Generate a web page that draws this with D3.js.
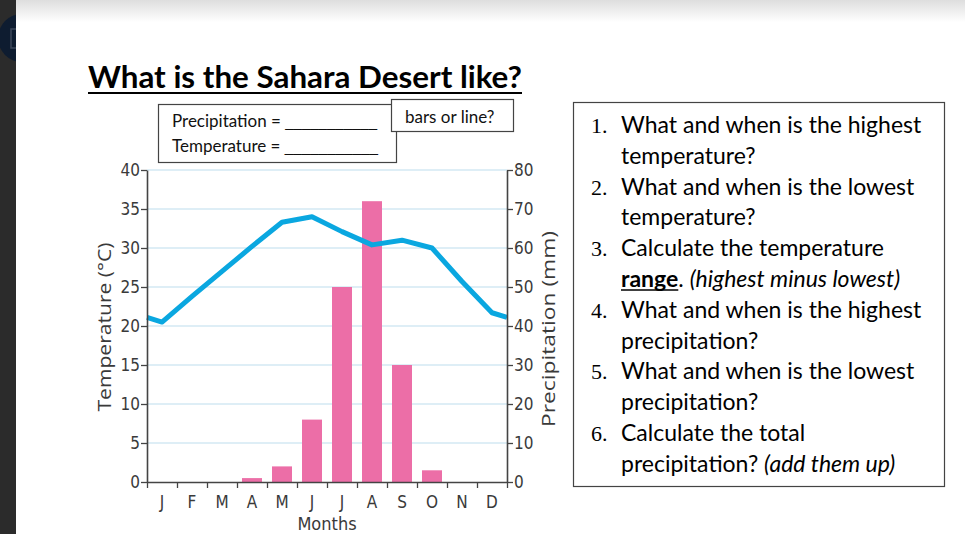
<!DOCTYPE html>
<html>
<head>
<meta charset="utf-8">
<script src="https://cdn.jsdelivr.net/npm/d3@7"></script>
<style>
body { margin: 0; background: #fff; overflow: hidden; }
svg { display: block; }
</style>
</head>
<body>
<svg id="page" width="965" height="534"></svg>
<script>
// values
const months = ["J", "F", "M", "A", "M", "J", "J", "A", "S", "O", "N", "D"];
const temperature = [20.5, 23.8, 27.0, 30.2, 33.3, 34.0, 32.1, 30.4, 31.0, 30.0, 25.7, 21.7];
const precipitation = [0, 0, 0, 1, 4, 16, 50, 72, 30, 3, 0, 0];
const tempTicks = [0, 5, 10, 15, 20, 25, 30, 35, 40];
const precTicks = [0, 10, 20, 30, 40, 50, 60, 70, 80];

const titleText = "What is the Sahara Desert like?";
const keyLabels = ["Precipitation = ", "Temperature = "];
const keyBlanks = ["___________", "___________"];
const askText = "bars or line?";
const questions = [
    { num: "1.", lines: [[{ t: "What and when is the highest" }], [{ t: "temperature?" }]] },
    { num: "2.", lines: [[{ t: "What and when is the lowest" }], [{ t: "temperature?" }]] },
    { num: "3.", lines: [[{ t: "Calculate the temperature" }], [{ t: "range", s: "bu" }, { t: ". " }, { t: "(highest minus lowest)", s: "i" }]] },
    { num: "4.", lines: [[{ t: "What and when is the highest" }], [{ t: "precipitation?" }]] },
    { num: "5.", lines: [[{ t: "What and when is the lowest" }], [{ t: "precipitation?" }]] },
    { num: "6.", lines: [[{ t: "Calculate the total" }], [{ t: "precipitation? " }, { t: "(add them up)", s: "i" }]] }
];

const plot = { left: 147, right: 507, top: 170, bottom: 482 };
const condensed = "'DejaVu Sans Condensed', 'DejaVu Sans', sans-serif";
const docFont = "Lato, 'Open Sans', sans-serif";
const axisColor = "#444";

const svg = d3.select("#page");

function drawChrome() {
    let defs = svg.append("defs");
    let grad = defs.append("linearGradient")
        .attr("id", "top-grad")
        .attr("x1", 0).attr("y1", 0).attr("x2", 0).attr("y2", 1);
    grad.append("stop").attr("offset", 0).attr("stop-color", "#dedede");
    grad.append("stop").attr("offset", 1).attr("stop-color", "#ffffff");
    defs.append("clipPath").attr("id", "strip-clip")
        .append("rect").attr("x", 0).attr("y", 0).attr("width", 16).attr("height", 534);

    svg.append("rect")
        .attr("x", 0).attr("y", 0).attr("width", 965).attr("height", 22)
        .attr("fill", "url(#top-grad)");
    svg.append("rect")
        .attr("x", 0).attr("y", 0).attr("width", 16).attr("height", 534)
        .attr("fill", "#2b2b2b");
    let strip = svg.append("g").attr("clip-path", "url(#strip-clip)");
    strip.append("circle")
        .attr("cx", 22).attr("cy", 38).attr("r", 24)
        .attr("fill", "#0e1c30");
    strip.append("rect")
        .attr("x", 11).attr("y", 29).attr("width", 6).attr("height", 19)
        .attr("fill", "none").attr("stroke", "#3c475a").attr("stroke-width", 1.5);
}

function drawChart() {
    let xBand = d3.scaleBand()
        .domain(d3.range(months.length))
        .range([plot.left, plot.right])
        .paddingInner(1 / 3)
        .paddingOuter(1 / 6);
    let xLin = d3.scaleLinear()
        .domain([0, months.length])
        .range([plot.left, plot.right]);
    let yTemp = d3.scaleLinear()
        .domain([0, 40])
        .range([plot.bottom, plot.top]);
    let yPrec = d3.scaleLinear()
        .domain([0, 80])
        .range([plot.bottom, plot.top]);

    let chart = svg.append("g").attr("id", "chart");

    // grid
    chart.append("g")
        .selectAll("line")
        .data(tempTicks.filter(d => d > 0))
        .enter()
        .append("line")
            .attr("x1", plot.left)
            .attr("x2", plot.right)
            .attr("y1", d => yTemp(d))
            .attr("y2", d => yTemp(d))
            .attr("stroke", "#d3e8f3")
            .attr("stroke-width", 1.3);

    // precipitation bars
    chart.append("g")
        .selectAll("rect")
        .data(precipitation)
        .enter()
        .append("rect")
            .attr("x", (d, i) => xBand(i))
            .attr("y", d => yPrec(d))
            .attr("width", xBand.bandwidth())
            .attr("height", d => yPrec(0) - yPrec(d))
            .attr("fill", "#ec6ea7");

    // temperature line, carried out to both axes (Dec/Jan join)
    let edge = (temperature[0] + temperature[temperature.length - 1]) / 2;
    let points = [{ x: xLin(0), v: edge }]
        .concat(temperature.map((v, i) => ({ x: xBand(i) + xBand.bandwidth() / 2, v: v })))
        .concat([{ x: xLin(months.length), v: edge }]);
    let line = d3.line()
        .x(d => d.x)
        .y(d => yTemp(d.v));
    chart.append("path")
        .datum(points)
        .attr("d", line)
        .attr("fill", "none")
        .attr("stroke", "#0aa7e0")
        .attr("stroke-width", 5)
        .attr("stroke-linejoin", "round");

    // axes
    let leftAxis = d3.axisLeft(yTemp).tickValues(tempTicks).tickSize(6).tickSizeOuter(0).tickPadding(1);
    let rightAxis = d3.axisRight(yPrec).tickValues(precTicks).tickSize(6).tickSizeOuter(0).tickPadding(1);
    let bottomAxis = d3.axisBottom(xLin).tickValues(d3.range(months.length + 1)).tickSize(6).tickSizeOuter(0).tickFormat("");

    let gl = chart.append("g").attr("transform", `translate(${ plot.left }, 0)`).call(leftAxis);
    let gr = chart.append("g").attr("transform", `translate(${ plot.right }, 0)`).call(rightAxis);
    let gb = chart.append("g").attr("transform", `translate(0, ${ plot.bottom })`).call(bottomAxis);

    [gl, gr, gb].forEach(g => {
        g.select(".domain").attr("stroke", axisColor).attr("stroke-width", 1.6);
        g.selectAll(".tick line").attr("stroke", axisColor).attr("stroke-width", 1.3);
        g.selectAll(".tick text")
            .attr("fill", "#3a3a3a")
            .style("font-family", condensed)
            .style("font-stretch", "condensed")
            .style("font-size", "17px");
    });

    chart.append("g")
        .selectAll("text")
        .data(months)
        .enter()
        .append("text")
            .attr("x", (d, i) => xBand(i) + xBand.bandwidth() / 2)
            .attr("y", 508)
            .attr("text-anchor", "middle")
            .attr("fill", "#3a3a3a")
            .style("font-family", condensed)
            .style("font-stretch", "condensed")
            .style("font-size", "17px")
            .text(d => d);

    chart.append("text")
        .attr("x", (plot.left + plot.right) / 2)
        .attr("y", 530)
        .attr("text-anchor", "middle")
        .attr("fill", "#3a3a3a")
        .style("font-family", condensed)
        .style("font-stretch", "condensed")
        .style("font-size", "18px")
        .text("Months");

    chart.append("text")
        .attr("transform", "translate(111, 327) rotate(-90)")
        .attr("text-anchor", "middle")
        .attr("fill", "#3a3a3a")
        .style("font-family", "'Open Sans', 'DejaVu Sans', sans-serif")
        .style("font-size", "19px")
        .attr("textLength", 169)
        .attr("lengthAdjust", "spacingAndGlyphs")
        .text("Temperature (°C)");

    chart.append("text")
        .attr("transform", "translate(555, 329) rotate(-90)")
        .attr("text-anchor", "middle")
        .attr("fill", "#3a3a3a")
        .style("font-family", "'Open Sans', 'DejaVu Sans', sans-serif")
        .style("font-size", "19px")
        .attr("textLength", 196)
        .attr("lengthAdjust", "spacingAndGlyphs")
        .text("Precipitation (mm)");
}

function drawSheet() {
    svg.append("text")
        .attr("x", 88)
        .attr("y", 88)
        .attr("fill", "#000")
        .attr("textLength", 434)
        .attr("lengthAdjust", "spacingAndGlyphs")
        .style("font-family", docFont)
        .style("font-weight", "bold")
        .style("font-size", "31px")
        .text(titleText);
    svg.append("line")
        .attr("x1", 88).attr("x2", 522)
        .attr("y1", 93).attr("y2", 93)
        .attr("stroke", "#000").attr("stroke-width", 2);

    // key box, then the "bars or line?" box on top of it
    svg.append("rect")
        .attr("x", 158.5).attr("y", 104.5).attr("width", 238).attr("height", 58)
        .attr("fill", "#fff").attr("stroke", "#444").attr("stroke-width", 1.2);
    let blankEnds = [377, 378];
    keyLabels.forEach((label, i) => {
        let y = 127 + i * 25;
        let t = svg.append("text")
            .attr("x", 172)
            .attr("y", y)
            .attr("fill", "#111")
            .attr("xml:space", "preserve")
            .style("white-space", "pre")
            .style("font-family", docFont)
            .style("font-size", "17px")
            .text(label);
        let start = 172 + t.node().getComputedTextLength();
        svg.append("text")
            .attr("x", start)
            .attr("y", y)
            .attr("fill", "#111")
            .attr("textLength", blankEnds[i] - start)
            .attr("lengthAdjust", "spacingAndGlyphs")
            .style("font-family", "'Liberation Sans', Arial, sans-serif")
            .style("font-size", "15px")
            .text(keyBlanks[i]);
    });

    svg.append("rect")
        .attr("x", 391.5).attr("y", 99.5).attr("width", 122).attr("height", 32)
        .attr("fill", "#fff").attr("stroke", "#444").attr("stroke-width", 1.2);
    svg.append("text")
        .attr("x", 405)
        .attr("y", 123)
        .attr("fill", "#111")
        .style("font-family", docFont)
        .style("font-size", "17px")
        .text(askText);

    // questions box
    svg.append("rect")
        .attr("x", 573.5).attr("y", 102.5).attr("width", 371).attr("height", 384)
        .attr("fill", "#fff").attr("stroke", "#444").attr("stroke-width", 1.2);

    let lineGap = 30.8;
    let row = 0;
    questions.forEach(q => {
        svg.append("text")
            .attr("x", 591)
            .attr("y", 133 + row * lineGap)
            .attr("fill", "#000")
            .style("font-family", "'Liberation Serif', serif")
            .style("font-size", "22px")
            .text(q.num);
        q.lines.forEach(segs => {
            let y = 133 + row * lineGap;
            let x = 621;
            segs.forEach(seg => {
                let t = svg.append("text")
                    .attr("x", x)
                    .attr("y", y)
                    .attr("fill", "#000")
                    .attr("xml:space", "preserve")
                    .style("white-space", "pre")
                    .style("font-family", docFont)
                    .style("font-size", "23px")
                    .style("font-weight", seg.s && seg.s.includes("b") ? "bold" : "normal")
                    .style("font-style", seg.s && seg.s.includes("i") ? "italic" : "normal")
                    .text(seg.t);
                let w = t.node().getComputedTextLength();
                if (seg.s && seg.s.includes("u")) {
                    svg.append("line")
                        .attr("x1", x).attr("x2", x + w)
                        .attr("y1", y + 3).attr("y2", y + 3)
                        .attr("stroke", "#000").attr("stroke-width", 1.6);
                }
                x += w;
            });
            row++;
        });
    });
}

drawChrome();
drawChart();
drawSheet();
</script>
</body>
</html>
